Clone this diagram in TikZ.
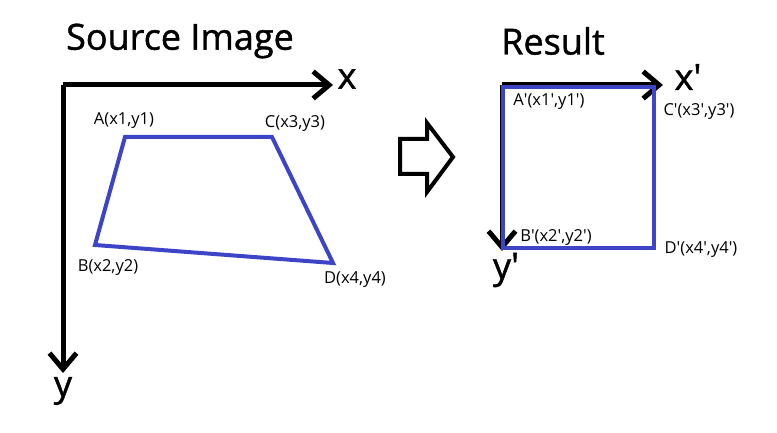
\documentclass[tikz,border=0pt]{standalone}
\usepackage{fontspec}
\setmainfont{Open Sans}
\newfontfamily\heavyfont{Open Sans}[FakeBold=1.2]
\usetikzlibrary{arrows.meta, calc, positioning}
\definecolor{quadblue}{RGB}{62,68,200}
\tikzset{
	axisline/.style={line width=5pt, -{Straight Barb[length=16pt,width=27pt,line width=5pt]}},
	quadline/.style={line width=4pt, quadblue, line join=miter}
}
\tikzset{
	titletext/.style={font=\heavyfont\fontsize{36}{42}\selectfont},
	axistext/.style={font=\heavyfont\fontsize{36}{42}\selectfont},
	cornertext/.style={font=\fontsize{16.5}{19}\selectfont, inner sep=0pt}
}
\newcommand{\pr}{\textquotesingle}

\begin{document}
\begin{tikzpicture}[x=1pt, y=-1pt, >=stealth]
      \useasboundingbox (0,0) rectangle (777,433);
      % titles
      \node[titletext] (srctitle) at (180,41) {Source Image};
      \node[titletext] (restitle) at (553,41) {Result};

      % source image: axes and quadrilateral
      \coordinate (o) at (63,85);
      \coordinate (xend) at (333,85);
      \coordinate (yend) at (63,373);
      \node[axistext] (xlab) at (347,79) {x};
      \node[axistext] (ylab) at (63,391) {y};
      \coordinate (A) at (125,137);
      \coordinate (C) at (272,137);
      \coordinate (D) at (333,263);
      \coordinate (B) at (95,245);
      \draw[quadline] (A) -- (C) -- (D) -- (B) -- cycle;
      \draw[axisline] (o) -- (xend);
      \draw[axisline] (o) -- (yend);
      \node[cornertext] (Alab) at (124,121) {A(x1,y1)};
      \node[cornertext] (Clab) at (295,124) {C(x3,y3)};
      \node[cornertext] (Blab) at (108,268) {B(x2,y2)};
      \node[cornertext] (Dlab) at (355,280) {D(x4,y4)};

      % block arrow in the middle
      \draw[line width=4pt, line join=miter] (400,139) -- (427,139) -- (427,123) -- (453,157)
        -- (427,192) -- (427,174) -- (400,174) -- cycle;

      % result: axes and square
      \coordinate (o') at (502,85);
      \coordinate (xend') at (663,85);
      \coordinate (yend') at (502,251);
      \coordinate (A') at (503,87);
      \coordinate (C') at (654,87);
      \coordinate (D') at (654,248);
      \coordinate (B') at (503,248);
      \draw[axisline] (o') -- (xend');
      \draw[axisline] (o') -- (yend');
      \draw[quadline] (A') -- (C') -- (D') -- (B') -- cycle;
      \node[axistext] (xlab') at (688,77) {x\pr};
      \node[axistext] (ylab') at (506,270) {y\pr};
      \node[cornertext] (Alab') at (549,102) {A\pr(x1\pr,y1\pr)};
      \node[cornertext] (Clab') at (699,112) {C\pr(x3\pr,y3\pr)};
      \node[cornertext] (Blab') at (556,238) {B\pr(x2\pr,y2\pr)};
      \node[cornertext] (Dlab') at (701,250) {D\pr(x4\pr,y4\pr)};
    \end{tikzpicture}
\end{document}
